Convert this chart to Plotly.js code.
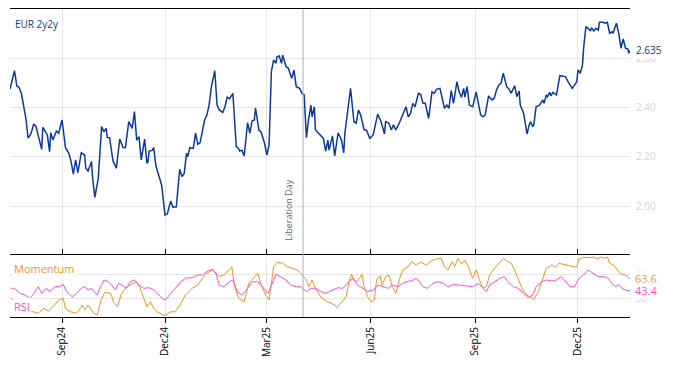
<!DOCTYPE html>
<html>
<head>
<meta charset="utf-8">
<script src="https://cdn.plot.ly/plotly-3.0.1.min.js"></script>
<style>html,body{margin:0;padding:0;background:#fff;}#chart{width:674px;height:366px;}</style>
</head>
<body>
<div id="chart"></div>
<script>
// ---- EUR 2y2y ----
const rateDates = ["2024-07-17","2024-07-21","2024-07-23","2024-07-25","2024-07-27","2024-07-29","2024-07-31","2024-08-02","2024-08-04","2024-08-05","2024-08-07","2024-08-09","2024-08-11","2024-08-13","2024-08-14","2024-08-15","2024-08-17","2024-08-19","2024-08-21","2024-08-22","2024-08-24","2024-08-27","2024-08-29","2024-09-01","2024-09-04","2024-09-07","2024-09-09","2024-09-11","2024-09-13","2024-09-15","2024-09-18","2024-09-21","2024-09-22","2024-09-24","2024-09-27","2024-09-28","2024-09-30","2024-10-03","2024-10-06","2024-10-08","2024-10-10","2024-10-11","2024-10-13","2024-10-16","2024-10-19","2024-10-22","2024-10-25","2024-10-27","2024-10-30","2024-11-02","2024-11-04","2024-11-06","2024-11-08","2024-11-10","2024-11-13","2024-11-15","2024-11-16","2024-11-17","2024-11-20","2024-11-21","2024-11-23","2024-11-26","2024-11-28","2024-12-01","2024-12-03","2024-12-06","2024-12-08","2024-12-11","2024-12-14","2024-12-16","2024-12-18","2024-12-20","2024-12-21","2024-12-23","2024-12-26","2024-12-28","2024-12-30","2025-01-01","2025-01-05","2025-01-07","2025-01-09","2025-01-11","2025-01-14","2025-01-16","2025-01-18","2025-01-21","2025-01-23","2025-01-25","2025-01-27","2025-01-30","2025-01-31","2025-02-02","2025-02-04","2025-02-05","2025-02-07","2025-02-09","2025-02-12","2025-02-14","2025-02-16","2025-02-18","2025-02-19","2025-02-22","2025-02-24","2025-02-27","2025-03-01","2025-03-03","2025-03-05","2025-03-07","2025-03-09","2025-03-10","2025-03-12","2025-03-14","2025-03-15","2025-03-18","2025-03-20","2025-03-23","2025-03-25","2025-03-27","2025-03-30","2025-04-01","2025-04-03","2025-04-05","2025-04-07","2025-04-09","2025-04-10","2025-04-12","2025-04-13","2025-04-17","2025-04-20","2025-04-22","2025-04-24","2025-04-25","2025-04-28","2025-04-30","2025-05-03","2025-05-06","2025-05-08","2025-05-09","2025-05-12","2025-05-14","2025-05-17","2025-05-19","2025-05-21","2025-05-23","2025-05-26","2025-05-28","2025-05-31","2025-06-03","2025-06-07","2025-06-10","2025-06-13","2025-06-14","2025-06-17","2025-06-19","2025-06-21","2025-06-23","2025-06-26","2025-06-29","2025-07-02","2025-07-04","2025-07-06","2025-07-08","2025-07-10","2025-07-13","2025-07-15","2025-07-17","2025-07-19","2025-07-22","2025-07-25","2025-07-27","2025-07-29","2025-08-01","2025-08-03","2025-08-05","2025-08-07","2025-08-09","2025-08-11","2025-08-13","2025-08-16","2025-08-18","2025-08-20","2025-08-22","2025-08-23","2025-08-25","2025-08-27","2025-08-30","2025-09-02","2025-09-04","2025-09-06","2025-09-08","2025-09-10","2025-09-13","2025-09-16","2025-09-18","2025-09-20","2025-09-22","2025-09-24","2025-09-26","2025-09-29","2025-10-01","2025-10-03","2025-10-06","2025-10-08","2025-10-10","2025-10-11","2025-10-14","2025-10-15","2025-10-17","2025-10-19","2025-10-20","2025-10-22","2025-10-23","2025-10-25","2025-10-28","2025-10-31","2025-11-01","2025-11-03","2025-11-04","2025-11-06","2025-11-07","2025-11-09","2025-11-12","2025-11-15","2025-11-18","2025-11-20","2025-11-23","2025-11-26","2025-11-28","2025-11-30","2025-12-01","2025-12-03","2025-12-05","2025-12-06","2025-12-08","2025-12-10","2025-12-12","2025-12-13","2025-12-15","2025-12-17","2025-12-19","2025-12-20","2025-12-23","2025-12-25","2025-12-27","2025-12-29","2025-12-31","2026-01-01","2026-01-04","2026-01-06","2026-01-08","2026-01-10","2026-01-12","2026-01-14","2026-01-15","2026-01-16"];
const rateValues = [2.477,2.552,2.490,2.484,2.461,2.405,2.359,2.277,2.290,2.303,2.335,2.324,2.282,2.238,2.231,2.321,2.303,2.290,2.222,2.299,2.269,2.306,2.297,2.351,2.239,2.215,2.181,2.130,2.188,2.136,2.217,2.208,2.154,2.143,2.181,2.117,2.035,2.113,2.324,2.303,2.317,2.280,2.279,2.185,2.154,2.273,2.239,2.238,2.344,2.317,2.385,2.269,2.283,2.188,2.273,2.174,2.181,2.224,2.228,2.239,2.163,2.122,2.086,1.963,1.967,2.020,1.995,1.997,2.150,2.120,2.133,2.215,2.201,2.238,2.235,2.297,2.252,2.258,2.351,2.371,2.412,2.487,2.552,2.412,2.392,2.381,2.405,2.446,2.437,2.460,2.378,2.242,2.235,2.224,2.228,2.204,2.340,2.297,2.347,2.351,2.401,2.310,2.301,2.256,2.208,2.249,2.548,2.596,2.582,2.609,2.612,2.582,2.616,2.569,2.562,2.521,2.555,2.487,2.480,2.460,2.453,2.279,2.358,2.412,2.364,2.405,2.310,2.290,2.276,2.224,2.269,2.228,2.286,2.204,2.299,2.269,2.217,2.297,2.399,2.480,2.344,2.338,2.392,2.371,2.310,2.310,2.276,2.290,2.375,2.344,2.294,2.344,2.338,2.310,2.331,2.310,2.338,2.374,2.405,2.364,2.378,2.419,2.405,2.460,2.456,2.419,2.419,2.358,2.466,2.460,2.476,2.480,2.433,2.399,2.412,2.399,2.471,2.419,2.507,2.466,2.444,2.480,2.444,2.487,2.412,2.405,2.466,2.419,2.372,2.364,2.371,2.449,2.433,2.440,2.473,2.494,2.501,2.542,2.487,2.478,2.460,2.491,2.446,2.469,2.412,2.378,2.344,2.294,2.333,2.344,2.324,2.331,2.405,2.412,2.433,2.419,2.453,2.446,2.464,2.450,2.464,2.453,2.532,2.531,2.528,2.501,2.480,2.494,2.507,2.555,2.542,2.575,2.644,2.732,2.725,2.714,2.728,2.714,2.725,2.718,2.750,2.750,2.746,2.750,2.705,2.711,2.705,2.746,2.705,2.644,2.682,2.644,2.641,2.623,2.635];

// ---- Momentum ----
const momDates = ["2024-07-18","2024-07-26","2024-08-04","2024-08-11","2024-08-16","2024-08-20","2024-08-24","2024-08-29","2024-09-02","2024-09-04","2024-09-08","2024-09-14","2024-09-19","2024-09-21","2024-09-24","2024-09-29","2024-10-02","2024-10-06","2024-10-09","2024-10-14","2024-10-17","2024-10-20","2024-10-23","2024-10-27","2024-10-31","2024-11-06","2024-11-09","2024-11-12","2024-11-15","2024-11-18","2024-11-21","2024-11-24","2024-11-28","2024-12-01","2024-12-06","2024-12-10","2024-12-15","2024-12-19","2024-12-25","2024-12-30","2025-01-03","2025-01-07","2025-01-12","2025-01-15","2025-01-18","2025-01-22","2025-01-27","2025-01-29","2025-01-30","2025-02-01","2025-02-04","2025-02-09","2025-02-13","2025-02-18","2025-02-21","2025-02-24","2025-02-28","2025-03-03","2025-03-07","2025-03-10","2025-03-15","2025-03-19","2025-03-24","2025-03-28","2025-03-31","2025-04-05","2025-04-07","2025-04-10","2025-04-13","2025-04-18","2025-04-24","2025-04-30","2025-05-02","2025-05-06","2025-05-10","2025-05-13","2025-05-15","2025-05-17","2025-05-20","2025-05-24","2025-05-26","2025-05-29","2025-06-01","2025-06-04","2025-06-06","2025-06-09","2025-06-11","2025-06-14","2025-06-17","2025-06-20","2025-06-23","2025-06-26","2025-06-29","2025-07-04","2025-07-07","2025-07-11","2025-07-15","2025-07-20","2025-07-24","2025-07-29","2025-08-02","2025-08-05","2025-08-08","2025-08-12","2025-08-14","2025-08-17","2025-08-20","2025-08-23","2025-08-26","2025-08-30","2025-09-02","2025-09-05","2025-09-08","2025-09-11","2025-09-14","2025-09-17","2025-09-21","2025-09-26","2025-09-29","2025-10-03","2025-10-06","2025-10-09","2025-10-12","2025-10-16","2025-10-20","2025-10-23","2025-10-27","2025-10-30","2025-11-03","2025-11-08","2025-11-11","2025-11-14","2025-11-18","2025-11-22","2025-11-27","2025-11-30","2025-12-02","2025-12-06","2025-12-10","2025-12-15","2025-12-18","2025-12-21","2025-12-24","2025-12-27","2025-12-29","2026-01-01","2026-01-04","2026-01-07","2026-01-10","2026-01-13","2026-01-16"];
const momValues = [31.2,20,10,6.2,14.5,10,17.2,28.3,31.2,14.5,8.8,6.2,20,11.7,20,6.2,3.3,31.2,41.2,39.5,22.8,17.2,36.7,47.8,53.3,58.8,47.8,33.8,17.2,25.5,14.5,8.8,4.5,2.2,8.8,8.8,22.8,36.7,47.8,53.3,64.5,72.8,78.3,72.8,67.2,70,81.2,83.8,70,47.8,31.2,25.5,56.2,67.2,72.8,53.3,36.7,28.3,83.8,91.2,89.5,83.8,81.2,78.3,72.8,61.7,50.5,61.7,47.8,32.2,25.5,20,15.5,25.5,33.8,61.7,71.2,61.7,58.8,71.2,50.5,33.8,25.5,28.3,61.7,68.8,53.3,67.2,70,50.5,39.5,61.7,78.3,83.8,92.2,86.7,91.2,86.7,93.3,96.7,97.8,83.8,78.3,92.2,83.8,97.8,87.8,95,83.8,64.5,78.3,61.7,47.8,50.5,70,78.3,86.7,97.8,93.3,89.5,78.3,64.5,50.5,37.8,33.8,29.5,42.2,58.8,81.2,86.7,82.2,89.5,87.8,85.5,83.8,83.8,96.7,99.5,98.8,99.8,96.7,100,97.8,100,89.5,86.7,81.2,72.8,71.2,68.8,63.6];

// ---- RSI ----
const rsiDates = ["2024-07-18","2024-07-21","2024-07-26","2024-07-30","2024-08-04","2024-08-07","2024-08-11","2024-08-14","2024-08-18","2024-08-21","2024-08-26","2024-08-30","2024-09-02","2024-09-05","2024-09-10","2024-09-14","2024-09-18","2024-09-21","2024-09-24","2024-09-27","2024-10-02","2024-10-05","2024-10-08","2024-10-12","2024-10-15","2024-10-18","2024-10-21","2024-10-24","2024-10-28","2024-10-31","2024-11-04","2024-11-08","2024-11-12","2024-11-17","2024-11-21","2024-11-27","2024-12-01","2024-12-05","2024-12-10","2024-12-15","2024-12-19","2024-12-25","2024-12-30","2025-01-03","2025-01-07","2025-01-12","2025-01-15","2025-01-18","2025-01-22","2025-01-27","2025-01-30","2025-02-03","2025-02-07","2025-02-12","2025-02-16","2025-02-21","2025-02-25","2025-03-02","2025-03-04","2025-03-09","2025-03-13","2025-03-18","2025-03-22","2025-03-27","2025-03-31","2025-04-05","2025-04-09","2025-04-13","2025-04-18","2025-04-22","2025-04-28","2025-05-03","2025-05-07","2025-05-11","2025-05-16","2025-05-20","2025-05-25","2025-05-29","2025-06-03","2025-06-07","2025-06-12","2025-06-16","2025-06-20","2025-06-25","2025-06-29","2025-07-04","2025-07-07","2025-07-11","2025-07-14","2025-07-17","2025-07-21","2025-07-26","2025-07-30","2025-08-04","2025-08-08","2025-08-13","2025-08-17","2025-08-21","2025-08-26","2025-08-30","2025-09-04","2025-09-08","2025-09-11","2025-09-14","2025-09-18","2025-09-23","2025-09-27","2025-09-30","2025-10-05","2025-10-09","2025-10-14","2025-10-18","2025-10-22","2025-10-25","2025-10-30","2025-11-03","2025-11-08","2025-11-12","2025-11-16","2025-11-19","2025-11-24","2025-11-28","2025-12-02","2025-12-06","2025-12-10","2025-12-15","2025-12-19","2025-12-24","2025-12-27","2025-12-31","2026-01-03","2026-01-06","2026-01-09","2026-01-12","2026-01-16"];
const rsiValues = [47.8,47.8,39.5,36.7,31.2,39.5,50.5,39.5,47.8,42.2,50.5,50.5,54.5,42.2,33.8,39.5,47.8,50.5,45,47.8,36.7,50.5,61.7,58.8,53.3,45,56.2,53.3,47.8,58.8,61.7,53.3,47.8,48.8,45,33.8,28.3,36.7,47.8,58.8,64.5,65.5,70,70,75.5,80,72.8,53.3,50.5,58.8,61.7,42.2,36.7,47.8,58.8,58.8,50.5,39.5,47.8,71.2,67.2,61.7,53.3,50.5,50.5,42.2,47.8,47.8,42.2,39.5,45,48.8,47.8,56.2,64.5,53.3,47.8,42.2,45,53.3,50.5,47.8,53.3,50.5,56.2,60,60,64.5,58.8,50.5,47.8,56.2,58.8,56.2,50.5,54.5,53.3,52.2,50.5,50.5,56.2,47.8,42.2,53.3,58.8,64.5,67.2,58.8,50.5,47.8,39.5,32.2,36.7,50.5,58.8,61.7,60,61.7,67.2,61.7,50.5,50.5,64.5,70,78.3,72.8,67.2,67.2,65.5,56.2,50.5,53.3,47.8,45,43.4];

const rateTicks = [2.0, 2.2, 2.4, 2.6];
const oscTicks = [30, 70];
const eventDate = "2025-04-02";
const eventLabel = "Liberation Day";

const BLUE = "#0b3a9c", ORANGE = "#f7931e", MAGENTA = "#ff4fd6", GRID = "#e6e6e6", TICKC = "#d4d4d4";
const split = 62/308;

const traces = [
  {x: rateDates, y: rateValues, type: "scatter", mode: "lines", line: {color: BLUE, width: 1.5}, xaxis: "x", yaxis: "y", hoverinfo: "skip"},
  {x: momDates, y: momValues, type: "scatter", mode: "lines", line: {color: ORANGE, width: 1}, xaxis: "x2", yaxis: "y2", hoverinfo: "skip"},
  {x: rsiDates, y: rsiValues, type: "scatter", mode: "lines", line: {color: MAGENTA, width: 1}, xaxis: "x2", yaxis: "y2", hoverinfo: "skip"}
];

const lastRate = rateValues[rateValues.length-1];
const lastMom = momValues[momValues.length-1];
const lastRsi = rsiValues[rsiValues.length-1];

const xRange = ["2024-07-17", "2026-01-16"];

const layout = {
  width: 674, height: 366,
  margin: {l: 10, r: 44, t: 9, b: 49},
  paper_bgcolor: "#fff", plot_bgcolor: "#fff",
  showlegend: false,
  font: {family: "Open Sans, sans-serif", size: 10, color: "#000"},
  xaxis: {
    anchor: "y", side: "top", range: xRange, type: "date",
    showticklabels: false, ticks: "",
    dtick: "M3", tick0: "2024-09-01",
    showgrid: true, gridcolor: GRID, gridwidth: 1,
    showline: true, linecolor: "#000", linewidth: 1, mirror: false,
    zeroline: false
  },
  yaxis: {
    domain: [split, 1], anchor: "x", side: "right",
    range: [1.80, 2.804],
    tickvals: rateTicks, tickformat: ".2f",
    tickfont: {color: TICKC, size: 10},
    ticks: "", ticklabelstandoff: 5,
    showgrid: true, gridcolor: GRID, zeroline: false, showline: false
  },
  xaxis2: {
    anchor: "y2", matches: "x", range: xRange, type: "date",
    dtick: "M3", tick0: "2024-09-01", tickformat: "%b%y",
    tickangle: -90, tickfont: {size: 10, color: "#000"},
    ticks: "outside", ticklen: 5, tickcolor: "#000", tickwidth: 1,
    showgrid: true, gridcolor: GRID,
    showline: true, linecolor: "#000", linewidth: 1, mirror: "ticks",
    zeroline: false
  },
  yaxis2: {
    domain: [0, split], anchor: "x2", side: "right",
    range: [0, 103.3],
    tickvals: oscTicks,
    tickfont: {color: TICKC, size: 10},
    ticks: "", ticklabelstandoff: 5,
    showgrid: true, gridcolor: GRID, zeroline: false, showline: false
  },
  shapes: [
    {type: "line", xref: "x", yref: "paper", x0: eventDate, x1: eventDate, y0: 0, y1: 1,
     line: {color: "#b0b0b0", width: 1}}
  ],
  annotations: [
    {xref: "paper", yref: "paper", x: 0.004, y: 0.985, xanchor: "left", yanchor: "top",
     text: "EUR 2y2y", showarrow: false, font: {color: BLUE, size: 10}, bgcolor: "#fff", borderpad: 2},
    {xref: "paper", yref: "y2", x: 0.004, y: 81, xanchor: "left", yanchor: "middle",
     text: "Momentum", showarrow: false, font: {color: ORANGE, size: 11}, bgcolor: "rgba(255,255,255,0.85)", borderpad: 1},
    {xref: "paper", yref: "y2", x: 0.004, y: 18, xanchor: "left", yanchor: "middle",
     text: "RSI", showarrow: false, font: {color: MAGENTA, size: 11}, bgcolor: "rgba(255,255,255,0.8)", borderpad: 1},
    {xref: "paper", yref: "y", x: 1, y: lastRate, xanchor: "left", yanchor: "middle", xshift: 4,
     text: lastRate.toFixed(3), showarrow: false, font: {color: BLUE, size: 10}, bgcolor: "#fff", borderpad: 1},
    {xref: "paper", yref: "y2", x: 1, y: lastMom, xanchor: "left", yanchor: "middle", xshift: 4,
     text: lastMom.toFixed(1), showarrow: false, font: {color: ORANGE, size: 11}, bgcolor: "#fff", borderpad: 0},
    {xref: "paper", yref: "y2", x: 1, y: lastRsi, xanchor: "left", yanchor: "middle", xshift: 4,
     text: lastRsi.toFixed(1), showarrow: false, font: {color: MAGENTA, size: 11}, bgcolor: "#fff", borderpad: 0},
    {xref: "x", yref: "y", x: eventDate, y: 1.85, xanchor: "right", yanchor: "bottom", xshift: -6,
     text: eventLabel, textangle: -90, showarrow: false, font: {color: "#666", size: 9}}
  ]
};

Plotly.newPlot("chart", traces, layout, {staticPlot: true, displayModeBar: false});
</script>
</body>
</html>
